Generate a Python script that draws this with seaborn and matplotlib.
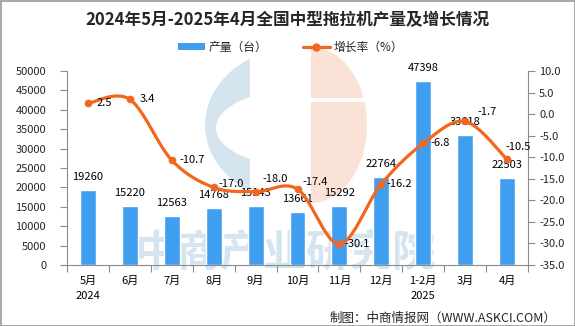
import numpy as np
import pandas as pd
import seaborn as sns
import matplotlib
matplotlib.use("Agg")
import matplotlib.pyplot as plt
from matplotlib.patches import Ellipse, Rectangle, Patch
from matplotlib.lines import Line2D
from matplotlib.ticker import FixedLocator, FuncFormatter

# ---------------- data ----------------
categories = ["5月\n2024", "6月", "7月", "8月", "9月", "10月", "11月", "12月", "1-2月\n2025", "3月", "4月"]
production = [19260, 15220, 12563, 14768, 15143, 13661, 15292, 22764, 47398, 33618, 22503]
growth = [2.5, 3.4, -10.7, -17.0, -18.0, -17.4, -30.1, -16.2, -6.8, -1.7, -10.5]
title = "2024年5月-2025年4月全国中型拖拉机产量及增长情况"
legend_labels = ["产量（台）", "增长率（%）"]
footer = "制图：中商情报网（WWW.ASKCI.COM）"
watermark = "中商产业研究院"

BAR = "#409EF0"
ORANGE = "#F2661E"
GRAY = "#8c8c8c"

sns.set_style("white")
plt.rcParams["font.family"] = ["Noto Sans CJK SC", "DejaVu Sans"]
plt.rcParams["axes.unicode_minus"] = False

W, H = 575, 326
fig = plt.figure(figsize=(W / 100, H / 100), dpi=100)

# ---------------- background watermark ----------------
bg = fig.add_axes([0, 0, 1, 1], zorder=-5)
bg.set_xlim(0, W)
bg.set_ylim(H, 0)
bg.axis("off")
blue_wm = "#d5e5ef"
peach_wm = "#fbe2d7"
bg.add_patch(Ellipse((300, 125), 190, 156, facecolor=blue_wm, edgecolor="none", zorder=1))
bg.add_patch(Rectangle((295, 40), 120, 180, facecolor="white", edgecolor="none", zorder=2))
bg.add_patch(Ellipse((302, 128), 172, 78, facecolor="white", edgecolor="none", zorder=3))
bg.add_patch(Ellipse((311, 125), 112, 156, facecolor=peach_wm, edgecolor="none", zorder=4))
bg.add_patch(Rectangle((250, 40), 61, 180, facecolor="white", edgecolor="none", zorder=5))
bg.add_patch(Rectangle((311, 98), 60, 4, facecolor="white", edgecolor="none", zorder=6))
bg.text(285, 252, watermark, fontsize=31, fontweight="bold", color=blue_wm,
        ha="center", va="center", zorder=7)
bg.add_patch(Rectangle((0.5, 0.5), W - 1, H - 1, facecolor="none", edgecolor="#9a9a9a",
                       linewidth=1.2, zorder=10))

# ---------------- main axes ----------------
ax = fig.add_axes([67 / W, 1 - 265 / H, (528 - 67) / W, (265 - 71) / H])
ax.set_facecolor("none")
df = pd.DataFrame({"cat": categories, "prod": production})
sns.barplot(data=df, x="cat", y="prod", color=BAR, saturation=1, width=0.38, ax=ax)
ax.set_xlim(-0.5, len(categories) - 0.5)
ax.set_ylim(0, 50000)
ax.set_yticks(np.arange(0, 50001, 5000))
ax.set_yticklabels([f"{v:d}" for v in range(0, 50001, 5000)])
ax.set_xlabel("")
ax.set_ylabel("")
for i, v in enumerate(production):
    ax.annotate(f"{v}", (i, v), xytext=(0, 13), textcoords="offset pixels",
                ha="center", va="center", fontsize=8, color="black")

ax.xaxis.set_minor_locator(FixedLocator(np.arange(-0.5, len(categories), 1.0)))
ax.tick_params(axis="x", which="major", length=0, pad=8, labelsize=8, colors="black")
ax.tick_params(axis="x", which="minor", length=5, width=0.8, color=GRAY, direction="out", bottom=True)
ax.tick_params(axis="y", which="major", length=5, width=0.8, color=GRAY, direction="out",
               left=True, pad=10, labelsize=8)
for lbl in ax.get_xticklabels():
    lbl.set_linespacing(1.6)
for s in ["top", "right"]:
    ax.spines[s].set_visible(False)
for s in ["left", "bottom"]:
    ax.spines[s].set_color(GRAY)
    ax.spines[s].set_linewidth(0.8)

# ---------------- growth line (smoothed) ----------------
ax2 = ax.twinx()
x = np.arange(len(growth), dtype=float)
y = np.array(growth, dtype=float)
P = np.column_stack([x, y])
Pext = np.vstack([P[0], P, P[-1]])
xs, ys = [], []
t = np.linspace(0, 1, 30)
for i in range(len(P) - 1):
    p0, p1, p2, p3 = Pext[i], Pext[i + 1], Pext[i + 2], Pext[i + 3]
    c1 = p1 + (p2 - p0) / 6
    c2 = p2 - (p3 - p1) / 6
    seg = ((1 - t) ** 3)[:, None] * p1 + (3 * (1 - t) ** 2 * t)[:, None] * c1 \
        + (3 * (1 - t) * t ** 2)[:, None] * c2 + (t ** 3)[:, None] * p2
    xs.extend(seg[:, 0])
    ys.extend(seg[:, 1])
sns.lineplot(x=xs, y=ys, ax=ax2, color=ORANGE, linewidth=2.3, sort=False, estimator=None)
sns.scatterplot(x=x, y=y, ax=ax2, color=ORANGE, s=26, edgecolor=ORANGE, zorder=5)
ax2.set_ylim(-35, 10)
ax2.set_yticks(np.arange(-35, 10.01, 5))
ax2.yaxis.set_major_formatter(FuncFormatter(lambda v, p: f"{v:.1f}"))
ax2.tick_params(axis="y", which="major", length=5, width=0.8, color=GRAY, direction="out",
                right=True, pad=3, labelsize=8)
for s in ["top", "left", "bottom"]:
    ax2.spines[s].set_visible(False)
ax2.spines["right"].set_color(GRAY)
ax2.spines["right"].set_linewidth(0.8)
ax2.set_ylabel("")

offsets = [(9, 0), (10, 0), (8, 0), (5, 3), (7, 13), (5, 7), (5, 0), (5, 0), (7, 0), (12, 9), (-2, 12)]
for i, v in enumerate(growth):
    dx, dy = offsets[i]
    ax2.annotate(f"{v:.1f}", (i, v), xytext=(dx, dy), textcoords="offset pixels",
                 ha="left", va="center", fontsize=8, color="black", zorder=6)

# ---------------- title / legend / footer ----------------
fig.text(0.5, 1 - 20 / H, title, ha="center", va="center", fontsize=12, fontweight="bold")
handles = [Patch(facecolor=BAR, edgecolor="none"),
           Line2D([0], [0], color=ORANGE, linewidth=2.3, marker="o", markersize=5)]
fig.legend(handles, legend_labels, loc="center", bbox_to_anchor=(0.505, 1 - 47 / H), ncol=2,
           frameon=False, fontsize=8.5, handlelength=2.3, handleheight=0.6,
           columnspacing=3.0, handletextpad=0.3)
fig.text(556 / W, 1 - 318 / H, footer, ha="right", va="center", fontsize=9)

fig.savefig("out.png", dpi=100)
